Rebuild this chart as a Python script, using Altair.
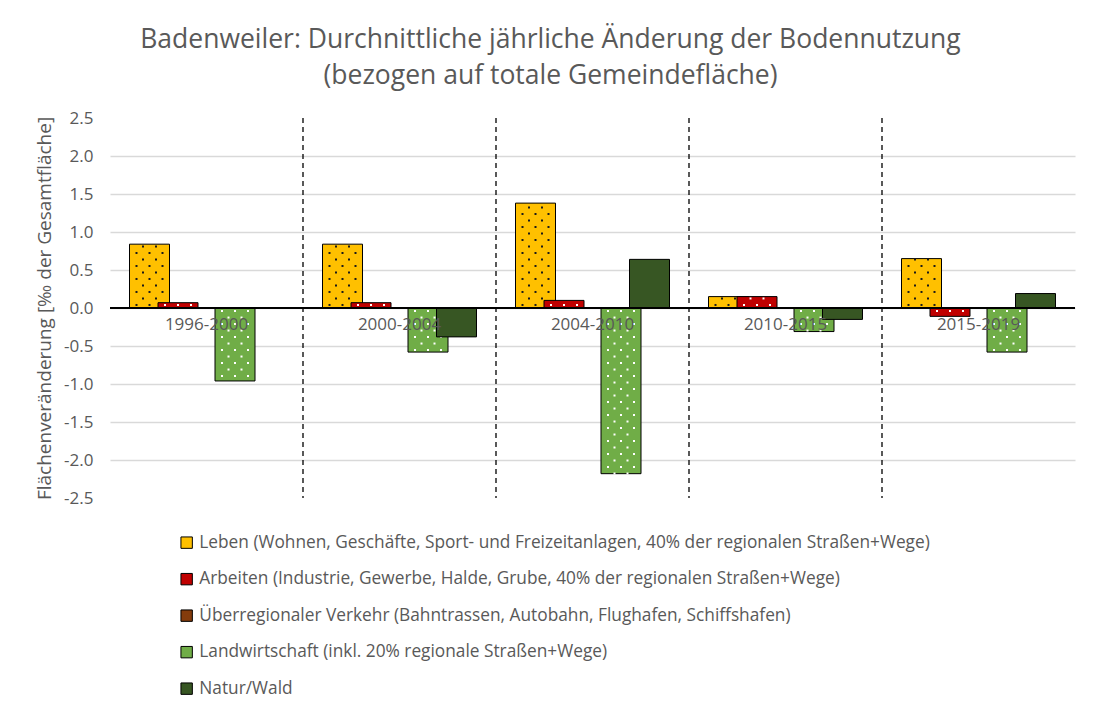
import altair as alt
import pandas as pd

periods = ["1996-2000", "2000-2004", "2004-2010", "2010-2015", "2015-2019"]
series = [
    "Leben (Wohnen, Geschäfte, Sport- und Freizeitanlagen, 40% der regionalen Straßen+Wege)",
    "Arbeiten (Industrie, Gewerbe, Halde, Grube, 40% der regionalen Straßen+Wege)",
    "Überregionaler Verkehr (Bahntrassen, Autobahn, Flughafen, Schiffshafen)",
    "Landwirtschaft (inkl. 20% regionale Straßen+Wege)",
    "Natur/Wald",
]
colors = ["#FFC000", "#C00000", "#843C0C", "#70AD47", "#375623"]
dot_colors = ["#1a1a1a", "white", "", "white", ""]

leben = [0.84, 0.84, 1.38, 0.15, 0.65]
arbeiten = [0.07, 0.07, 0.10, 0.15, -0.11]
verkehr = [0.0, 0.0, 0.0, 0.0, 0.0]
landwirtschaft = [-0.96, -0.58, -2.18, -0.31, -0.58]
natur = [0.0, -0.38, 0.64, -0.15, 0.19]
all_values = [leben, arbeiten, verkehr, landwirtschaft, natur]

y_ticks = [-2.5, -2.0, -1.5, -1.0, -0.5, 0.0, 0.5, 1.0, 1.5, 2.0, 2.5]

FONT = "Open Sans"
GREY = "#595959"
BAR_W = 40          # bar width (px)
BAR_STEP = 28.5     # distance between overlapping bars of a group (px)
STEP = 0.0855       # vertical spacing of pattern dots (data units)

x_scale = alt.Scale(domain=periods, paddingInner=0, paddingOuter=0)
y_scale = alt.Scale(domain=[-2.5, 2.5], nice=False, zero=False)
color_scale = alt.Scale(domain=series, range=colors)

y_axis = alt.Axis(
    values=y_ticks,
    labelExpr="(datum.value < 0 ? '-' : '') + format(abs(datum.value), '.1f')",
    labelOverlap=False,
    ticks=False,
    domain=False,
    labelFont=FONT,
    labelFontSize=17,
    labelColor=GREY,
    labelPadding=17,
    title="Flächenveränderung [‰ der Gesamtfläche]",
    titleFont=FONT,
    titleFontSize=19,
    titleFontWeight="normal",
    titleColor=GREY,
    titlePadding=9,
    gridColor=alt.condition("abs(datum.value) > 2.4", alt.value("transparent"), alt.value("#D9D9D9")),
    gridWidth=1.3,
)

legend = alt.Legend(
    title=None,
    orient="none",
    legendX=68,
    legendY=416,
    direction="vertical",
    symbolType="square",
    symbolSize=130,
    symbolStrokeColor="black",
    symbolStrokeWidth=1,
    symbolOpacity=1,
    labelFont=FONT,
    labelFontSize=17.3,
    labelColor=GREY,
    labelLimit=900,
    rowPadding=18.5,
    labelOffset=4,
)

X = alt.X("period:N", scale=x_scale, axis=None)

layers = []
n = len(series)
for i, (s, vals) in enumerate(zip(series, all_values)):
    off = (i - (n - 1) / 2) * BAR_STEP
    sdf = pd.DataFrame({"period": periods, "series": [s] * len(periods), "value": vals,
                        "dot": [dot_colors[i]] * len(periods)})
    layers.append(
        alt.Chart(sdf).mark_bar(width=BAR_W, xOffset=off, stroke="black", strokeWidth=1).encode(
            x=X,
            y=alt.Y("value:Q", scale=y_scale, axis=y_axis),
            y2=alt.datum(0),
            color=alt.Color("series:N", scale=color_scale, legend=legend),
        )
    )
    if dot_colors[i]:
        dot_base = (
            alt.Chart(sdf)
            .transform_calculate(ys=f"sequence(0.04, abs(datum.value), {STEP})")
            .transform_flatten(["ys"])
            .transform_calculate(
                yv="datum.value < 0 ? -datum.ys : datum.ys",
                par=f"floor(datum.ys / {STEP}) % 2",
            )
        )
        for par, dxs in [(0, [-13, 0, 13]), (1, [-6.5, 6.5])]:
            for dx in dxs:
                layers.append(
                    dot_base.transform_filter(f"datum.par == {par}")
                    .mark_square(size=4, filled=True, opacity=1, xOffset=off + dx, color=dot_colors[i])
                    .encode(x=X, y=alt.Y("yv:Q", scale=y_scale, axis=y_axis))
                )

sep_df = pd.DataFrame({"period": periods[1:]})
seps = alt.Chart(sep_df).mark_rule(color="black", strokeWidth=1.3, strokeDash=[5, 4]).encode(
    x=alt.X("period:N", scale=x_scale, bandPosition=0, axis=None),
)

zero_df = pd.DataFrame({"value": [0.0]})
zero_line = alt.Chart(zero_df).mark_rule(color="black", strokeWidth=2).encode(
    y=alt.Y("value:Q", scale=y_scale, axis=y_axis),
)

lab_df = pd.DataFrame({"period": periods, "value": [0.0] * len(periods)})
labels = alt.Chart(lab_df).mark_text(
    font=FONT, fontSize=17, color=GREY, dy=17, baseline="middle"
).encode(
    x=X,
    y=alt.Y("value:Q", scale=y_scale, axis=y_axis),
    text="period:N",
)

chart = alt.layer(*layers, seps, zero_line, labels).properties(
    width=965,
    height=380,
    background="white",
    padding={"left": 110, "top": 118, "right": 25, "bottom": 220},
    autosize=alt.AutoSizeParams(type="none"),
    title=alt.TitleParams(
        text=[
            "Badenweiler: Durchnittliche jährliche Änderung der Bodennutzung",
            "(bezogen auf totale Gemeindefläche)",
        ],
        font=FONT,
        fontSize=26.5,
        fontWeight="normal",
        color=GREY,
        anchor="middle",
        dx=-42,
        offset=20,
        lineHeight=36,
    ),
).configure_view(stroke="transparent", strokeWidth=0)

chart.save("out.html", embed_options={"renderer": "svg", "actions": False})
